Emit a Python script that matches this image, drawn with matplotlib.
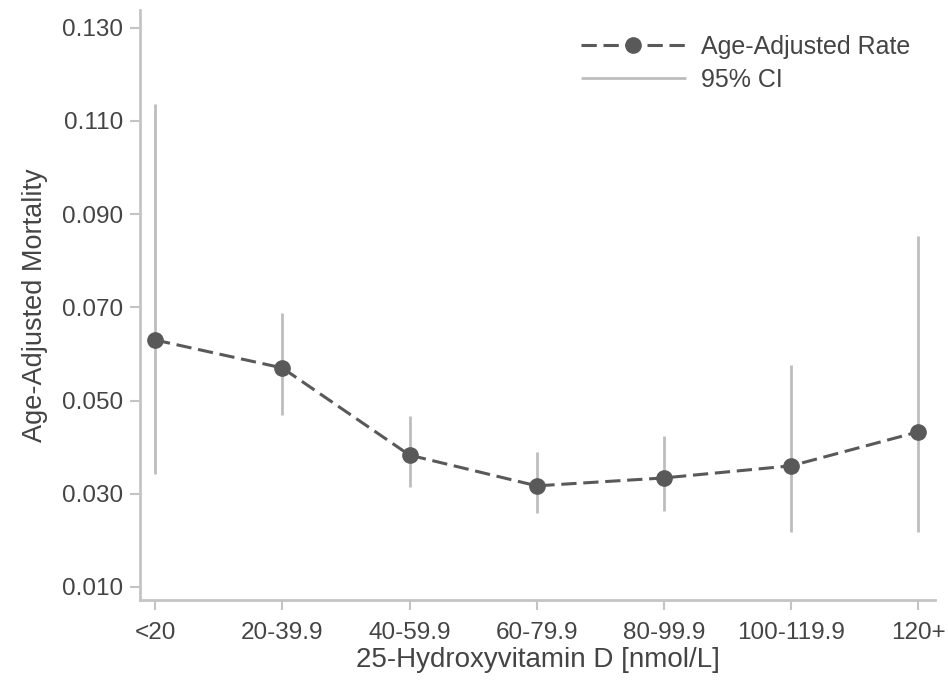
import matplotlib.pyplot as plt

# Categorías de 25-hidroxivitamina D y tasas ajustadas por edad
categorias = ['<20', '20-39.9', '40-59.9', '60-79.9', '80-99.9', '100-119.9', '120+']
tasa = [0.0630, 0.0570, 0.0383, 0.0317, 0.0334, 0.0360, 0.0433]
ic_inferior = [0.0342, 0.0469, 0.0315, 0.0259, 0.0263, 0.0218, 0.0218]
ic_superior = [0.1137, 0.0688, 0.0467, 0.0390, 0.0424, 0.0576, 0.0853]

plt.rcParams['font.family'] = ['Liberation Sans', 'DejaVu Sans']

fig = plt.figure(figsize=(9.48, 6.8), dpi=100)
ax = fig.add_axes([0.1477, 0.1176, 0.8386, 0.8677])

x = list(range(len(categorias)))

# Intervalos de confianza como líneas verticales
ax.vlines(x, ic_inferior, ic_superior, color='#bdbdbd', linewidth=2, label='95% CI', zorder=1)

# Tasa ajustada por edad
ax.plot(x, tasa, linestyle=(0, (5, 2.2)), color='#595959', linewidth=2.2,
        marker='o', markersize=11, label='Age-Adjusted Rate', zorder=2)

ax.set_xlim(-0.118, 6.13)
ax.set_ylim(0.0072, 0.1338)
ax.set_yticks([0.010, 0.030, 0.050, 0.070, 0.090, 0.110, 0.130])
ax.set_yticklabels(['0.010', '0.030', '0.050', '0.070', '0.090', '0.110', '0.130'])
ax.set_xticks(x)
ax.set_xticklabels(categorias)

for lado in ['top', 'right']:
    ax.spines[lado].set_visible(False)
for lado in ['left', 'bottom']:
    ax.spines[lado].set_color('#c4c4c4')
    ax.spines[lado].set_linewidth(2)

ax.tick_params(axis='both', colors='#c4c4c4', labelcolor='#444444', length=7,
               width=1.5, labelsize=17.5)
ax.tick_params(axis='x', pad=9)
ax.tick_params(axis='y', pad=5)

ax.set_xlabel('25-Hydroxyvitamin D [nmol/L]', fontsize=20, color='#444444', labelpad=2)
ax.set_ylabel('Age-Adjusted Mortality', fontsize=19.5, color='#444444', labelpad=10)

handles, labels = ax.get_legend_handles_labels()
ax.legend(handles[::-1], labels[::-1], loc='upper right', frameon=False, fontsize=18,
          handlelength=4.2, handletextpad=0.6, labelspacing=0.35, numpoints=1,
          labelcolor='#444444', borderaxespad=0.6)

plt.savefig('out.png', dpi=100)
